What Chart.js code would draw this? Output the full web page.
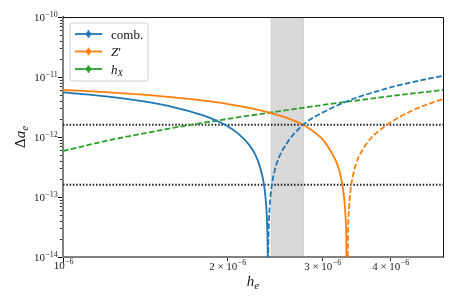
<!DOCTYPE html>
<html><head><meta charset="utf-8">
<script src="https://cdn.jsdelivr.net/npm/chart.js@4/dist/chart.umd.min.js"></script>
<style>html,body{margin:0;padding:0;background:#fff;overflow:hidden}</style>
</head><body>
<canvas id="c" width="457" height="305"></canvas>
<script>
// ---------- data ----------
const combSolidH = [1.0e-6,1.2e-6,1.4e-6,1.6e-6,1.8e-6,2.0e-6,2.1e-6,2.2e-6,2.26e-6,2.3e-6,2.33e-6,2.35e-6,2.365e-6,2.375e-6,2.38e-6,2.382e-6];
const combSolidV = [5.55e-12,4.75e-12,3.95e-12,3.13e-12,2.33e-12,1.54e-12,1.14e-12,7.4e-13,5.0e-13,3.3e-13,2.1e-13,1.3e-13,7.0e-14,3.0e-14,9e-15,1e-15];
const combDashH = [2.383e-6,2.386e-6,2.39e-6,2.4e-6,2.42e-6,2.45e-6,2.5e-6,2.6e-6,2.7e-6,2.8e-6,3.0e-6,3.25e-6,3.5e-6,3.75e-6,4.0e-6,4.25e-6,4.5e-6,4.75e-6,5.0e-6];
const combDashV = [1e-15,1.2e-14,3.0e-14,7.0e-14,1.5e-13,2.7e-13,4.7e-13,8.7e-13,1.3e-12,1.75e-12,2.55e-12,3.6e-12,4.65e-12,5.65e-12,6.7e-12,7.7e-12,8.6e-12,9.55e-12,1.05e-11];
const zSolidH = [1.0e-6,1.2e-6,1.4e-6,1.6e-6,1.8e-6,2.0e-6,2.2e-6,2.4e-6,2.6e-6,2.8e-6,3.0e-6,3.1e-6,3.2e-6,3.25e-6,3.29e-6,3.31e-6,3.32e-6,3.325e-6];
const zSolidV = [6.07e-12,5.6e-12,5.08e-12,4.56e-12,4.08e-12,3.58e-12,3.06e-12,2.54e-12,2.03e-12,1.5e-12,9.2e-13,6.0e-13,3.4e-13,2.0e-13,9.5e-14,4.5e-14,1.8e-14,1e-15];
const zDashH = [3.337e-6,3.345e-6,3.36e-6,3.38e-6,3.42e-6,3.46e-6,3.52e-6,3.6e-6,3.7e-6,3.8e-6,3.94e-6,4.1e-6,4.3e-6,4.5e-6,4.75e-6,5.0e-6];
const zDashV = [4e-15,2.5e-14,7.0e-14,1.3e-13,2.4e-13,3.6e-13,5.2e-13,7.3e-13,9.9e-13,1.24e-12,1.59e-12,2.0e-12,2.52e-12,3.05e-12,3.67e-12,4.3e-12];
const hxH = [1.0e-6,1.2e-6,1.4e-6,1.6e-6,1.8e-6,2.0e-6,2.2e-6,2.4e-6,2.6e-6,2.8e-6,3.0e-6,3.25e-6,3.5e-6,3.75e-6,4.0e-6,4.5e-6,5.0e-6];
const hxV = [5.84e-13,8.6e-13,1.14e-12,1.43e-12,1.71e-12,1.99e-12,2.27e-12,2.54e-12,2.83e-12,3.12e-12,3.41e-12,3.76e-12,4.1e-12,4.45e-12,4.8e-12,5.45e-12,6.07e-12];
const limitLevels = [1.6e-12, 1.6e-13];
const bandRange = [2.415e-6, 2.77e-6];
const xRange = [1e-6, 5e-6];
const yRange = [1e-14, 1e-10];
const yTickExps = [-14,-13,-12,-11,-10];
const minorMult = [2,3,4,5,6,7,8,9];
const xTickVals = [1e-6, 2e-6, 3e-6, 4e-6];
const xTickMant = ['', '2', '3', '4'];
const xTickExp = [-6, -6, -6, -6];
const seriesColors = ['#1f77b4', '#ff7f0e', '#2ca02c'];
const legendLabels = [
  [{t:'comb.'}],
  [{t:'Z', i:true}, {t:'\u2032'}],
  [{t:'h', i:true}, {t:'X', i:true, sub:true}]
];

const pts = (h, v) => h.map((x, k) => ({x, y: v[k]}));
const DASH = [5.6, 2.4];
const LW = 1.8;

const datasets = [
  {data: pts(combSolidH, combSolidV), borderColor: seriesColors[0]},
  {data: pts(combDashH, combDashV), borderColor: seriesColors[0], borderDash: DASH},
  {data: pts(zSolidH, zSolidV), borderColor: seriesColors[1]},
  {data: pts(zDashH, zDashV), borderColor: seriesColors[1], borderDash: DASH},
  {data: pts(hxH, hxV), borderColor: seriesColors[2], borderDash: DASH},
].map(d => Object.assign({borderWidth: LW, pointRadius: 0, fill: false, cubicInterpolationMode: 'monotone'}, d));

limitLevels.forEach(l => datasets.push({
  data: [{x: xRange[0], y: l}, {x: xRange[1], y: l}],
  borderColor: '#222', borderWidth: 1.8, borderDash: [1.5, 1.8], pointRadius: 0, fill: false
}));

const SERIF = '"Liberation Serif", "DejaVu Serif", serif';

function drawSci(ctx, mant, exp, x, base, align) {
  const main = mant ? mant + ' \u00d7 10' : '10';
  const sup = '\u2212' + Math.abs(exp);
  ctx.font = '11px ' + SERIF;
  const wm = ctx.measureText(main).width;
  ctx.font = '8px ' + SERIF;
  const ws = ctx.measureText(sup).width;
  const tot = wm + ws;
  let sx = align === 'right' ? x - tot : x - tot / 2;
  ctx.textAlign = 'left'; ctx.textBaseline = 'alphabetic';
  ctx.font = '11px ' + SERIF;
  ctx.fillText(main, sx, base);
  ctx.font = '8px ' + SERIF;
  ctx.fillText(sup, sx + wm + 0.3, base - 4.3);
}

function drawRich(ctx, segs, x, base, size, align) {
  const subSize = Math.round(size * 0.7);
  const widths = segs.map(s => {
    ctx.font = (s.i ? 'italic ' : '') + (s.sub ? subSize : size) + 'px ' + SERIF;
    return ctx.measureText(s.t).width;
  });
  const tot = widths.reduce((a, b) => a + b, 0);
  let cx = align === 'center' ? x - tot / 2 : x;
  ctx.textAlign = 'left'; ctx.textBaseline = 'alphabetic';
  segs.forEach((s, k) => {
    ctx.font = (s.i ? 'italic ' : '') + (s.sub ? subSize : size) + 'px ' + SERIF;
    ctx.fillText(s.t, cx, base + (s.sub ? size * 0.22 : 0));
    cx += widths[k];
  });
}

const deco = {
  id: 'deco',
  beforeDatasetsDraw(chart) {
    const {ctx, chartArea: a, scales: {x}} = chart;
    const x0 = x.getPixelForValue(bandRange[0]), x1 = x.getPixelForValue(bandRange[1]);
    ctx.save();
    ctx.fillStyle = 'rgba(128,128,128,0.3)';
    ctx.fillRect(x0, a.top, x1 - x0, a.bottom - a.top - 1);
    ctx.strokeStyle = 'rgba(128,128,128,0.2)';
    ctx.lineWidth = 1.2;
    ctx.beginPath();
    ctx.moveTo(x0, a.top); ctx.lineTo(x0, a.bottom - 1);
    ctx.moveTo(x1, a.top); ctx.lineTo(x1, a.bottom - 1);
    ctx.stroke();
    ctx.restore();
  },
  afterDraw(chart) {
    const {ctx, chartArea: a, scales: {x, y}} = chart;
    ctx.save();
    // top & right spines
    ctx.strokeStyle = '#111'; ctx.lineWidth = 1;
    ctx.beginPath();
    ctx.moveTo(a.left, a.top + 0.5); ctx.lineTo(a.right + 0.5, a.top + 0.5); ctx.lineTo(a.right + 0.5, a.bottom);
    ctx.stroke();
    // y ticks
    ctx.strokeStyle = '#000';
    yTickExps.forEach((e, k) => {
      const py = Math.round(y.getPixelForValue(Math.pow(10, e))) + 0.5;
      ctx.lineWidth = 1;
      ctx.beginPath(); ctx.moveTo(a.left - 5, py); ctx.lineTo(a.left - 1, py); ctx.stroke();
      if (k < yTickExps.length - 1) {
        minorMult.forEach(m => {
          const pm = Math.round(y.getPixelForValue(m * Math.pow(10, e))) + 0.5;
          ctx.lineWidth = 0.8;
          ctx.beginPath(); ctx.moveTo(a.left - 3.2, pm); ctx.lineTo(a.left - 1, pm); ctx.stroke();
        });
      }
      ctx.fillStyle = '#222';
      drawSci(ctx, '', e, a.left - 5.5, py + 3.8, 'right');
    });
    // x ticks
    xTickVals.forEach((v, k) => {
      const px = Math.round(x.getPixelForValue(v)) + 0.5;
      const len = k === 0 ? 4.5 : 3;
      ctx.lineWidth = k === 0 ? 1 : 0.8;
      ctx.beginPath(); ctx.moveTo(px, a.bottom + 1); ctx.lineTo(px, a.bottom + 1 + len); ctx.stroke();
      ctx.fillStyle = '#222';
      drawSci(ctx, xTickMant[k], xTickExp[k], px, k === 0 ? a.bottom + 11.5 : a.bottom + 12.5, 'center');
    });
    // axis titles
    ctx.fillStyle = '#111';
    drawRich(ctx, [{t:'h', i:true}, {t:'e', i:true, sub:true}], (a.left + a.right) / 2, a.bottom + 29, 15, 'center');
    ctx.save();
    ctx.translate(25, (a.top + a.bottom) / 2);
    ctx.rotate(-Math.PI / 2);
    drawRich(ctx, [{t:'\u0394'}, {t:'a', i:true}, {t:'e', i:true, sub:true}], 0, 0, 15, 'center');
    ctx.restore();
    // legend
    const lx = a.left + 7, ly = a.top + 6, lw = 78, lh = 58, r = 3;
    ctx.beginPath();
    ctx.moveTo(lx + r, ly); ctx.lineTo(lx + lw - r, ly); ctx.quadraticCurveTo(lx + lw, ly, lx + lw, ly + r);
    ctx.lineTo(lx + lw, ly + lh - r); ctx.quadraticCurveTo(lx + lw, ly + lh, lx + lw - r, ly + lh);
    ctx.lineTo(lx + r, ly + lh); ctx.quadraticCurveTo(lx, ly + lh, lx, ly + lh - r);
    ctx.lineTo(lx, ly + r); ctx.quadraticCurveTo(lx, ly, lx + r, ly);
    ctx.closePath();
    ctx.fillStyle = 'rgba(255,255,255,0.85)'; ctx.fill();
    ctx.strokeStyle = '#cfcfcf'; ctx.lineWidth = 1; ctx.stroke();
    legendLabels.forEach((segs, k) => {
      const ry = ly + 11 + k * 17.5;
      ctx.strokeStyle = seriesColors[k]; ctx.fillStyle = seriesColors[k];
      ctx.lineWidth = LW;
      ctx.beginPath(); ctx.moveTo(lx + 5, ry); ctx.lineTo(lx + 32, ry); ctx.stroke();
      ctx.beginPath(); ctx.moveTo(lx + 18.5, ry - 3.8); ctx.lineTo(lx + 18.5, ry + 3.8); ctx.stroke();
      ctx.beginPath(); ctx.arc(lx + 18.5, ry, 2.5, 0, Math.PI * 2); ctx.fill();
      ctx.fillStyle = '#111';
      drawRich(ctx, segs, lx + 41, ry + 4.5, 13, 'left');
    });
    ctx.restore();
  }
};

new Chart(document.getElementById('c'), {
  type: 'line',
  data: {datasets},
  options: {
    responsive: false, animation: false, devicePixelRatio: 1,
    layout: {padding: {left: 0, top: 17, right: 14, bottom: 0}},
    plugins: {legend: {display: false}, tooltip: {enabled: false}},
    scales: {
      x: {type: 'logarithmic', min: xRange[0], max: xRange[1],
          grid: {display: false}, ticks: {display: false},
          border: {display: true, color: '#808080', width: 2},
          afterFit: s => { s.height = 48; }},
      y: {type: 'logarithmic', min: yRange[0], max: yRange[1],
          grid: {display: false}, ticks: {display: false},
          border: {display: true, color: '#808080', width: 2},
          afterFit: s => { s.width = 63; }}
    }
  },
  plugins: [deco]
});
</script>
</body></html>
